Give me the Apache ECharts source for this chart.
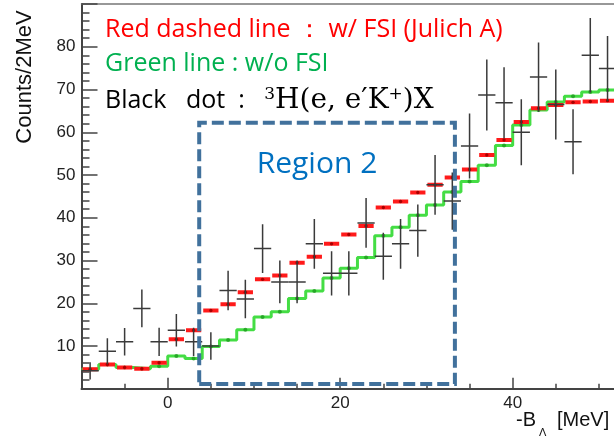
<!DOCTYPE html>
<html>
<head>
<meta charset="utf-8">
<script src="https://cdn.jsdelivr.net/npm/echarts@6/dist/echarts.min.js"></script>
<style>html,body{margin:0;padding:0;background:#fff}#main{width:614px;height:443px}</style>
</head>
<body>
<div id="main"></div>
<script>
// bin centres, 2 MeV bins
let bins = [-9,-7,-5,-3,-1,1,3,5,7,9,11,13,15,17,19,21,23,25,27,29,31,33,35,37,39,41,43,45,47,49,51];
// black crosses : data with error bars
let counts = [4.2,8.8,11,18.8,11,13.7,11,10,23,21,32.8,25,25,33.9,27,27,38.8,31,33.9,37,47.7,43.9,56.8,68.7,66.9,60,72.9,66.5,57.8,78,74.9];
let errors = [2,3,3.2,4.4,3.3,3.8,3.3,3.2,4.6,4.5,5.7,5,5,5.8,5.2,5.2,5.8,5.5,5.8,6.1,7,6.7,7.6,8.3,8.3,7.7,8.1,8.2,7.6,8.7,7.6];
// red : w/ FSI (Julich A)
let fsi = [4.6,5.7,5.0,4.7,6.1,11.6,13.7,18.3,19.8,22.6,25.6,26.5,29.5,30.9,33.9,36.1,38.1,42.4,43.8,45.9,47.7,49.4,51.3,54.7,58.2,62.4,65.6,66.4,67.0,67.2,67.4];
// green : w/o FSI
let nofsi = [4.6,5.7,5.0,4.7,5.3,7.7,7.1,9.9,11.4,13.8,16.8,18.0,21.1,22.9,25.9,28.2,30.7,35.8,37.8,40.6,43.0,46.0,48.5,52.3,56.9,61.7,65.2,67.1,68.4,69.4,69.9];
let xLabels = [0,20,40];
let xMinor = [-5,5,10,15,25,30,35,45,50];
// region 2 box (data coords)
let region = [[3.65,1.1],[33.3,62.2]];

let chart = echarts.init(document.getElementById('main'));

// histogram edges for the green step line
let stepData = bins.map((c,i)=>[c-1,nofsi[i]]);
stepData.push([bins[bins.length-1]+1,nofsi[nofsi.length-1]]);

let xMin = -10, xMax = 51.75;

let option = {
    animation:false,
    grid:{left:81.5,top:4,right:0,bottom:54.2},
    xAxis:[{
        type:'value',min:xMin,max:xMax,position:'bottom',
        splitLine:{show:false},
        axisLine:{onZero:false,lineStyle:{color:'#444',width:2}},
        axisTick:{inside:true,length:11,customValues:xLabels,lineStyle:{color:'#444',width:1.5}},
        axisLabel:{customValues:xLabels,fontSize:17,color:'#222',margin:6,fontFamily:'Liberation Sans'}
    },{
        type:'value',min:xMin,max:xMax,position:'bottom',
        splitLine:{show:false},
        axisLine:{show:false},
        axisTick:{inside:true,length:5,customValues:xMinor,lineStyle:{color:'#444',width:1.5}},
        axisLabel:{show:false}
    },{
        //top frame
        type:'value',min:xMin,max:xMax,position:'top',
        splitLine:{show:false},
        axisLine:{onZero:false,lineStyle:{color:'#777',width:1.5}},
        axisTick:{show:false},
        axisLabel:{show:false}
    }],
    yAxis:{
        type:'value',min:0,max:90,interval:10,
        splitLine:{show:false},
        axisLine:{show:true,onZero:false,lineStyle:{color:'#444',width:2}},
        axisTick:{inside:true,length:16,lineStyle:{color:'#444',width:1.5}},
        minorTick:{show:true,splitNumber:5,length:8,lineStyle:{color:'#444',width:1.5}},
        axisLabel:{fontSize:17,color:'#222',margin:6,fontFamily:'Liberation Sans',
            formatter:function(v){return (v===0||v===90)?'':v;}}
    },
    series:[{
        name:'w/o FSI',type:'line',step:'end',data:stepData,
        symbol:'none',lineStyle:{color:'#44dd44',width:3},z:2
    },{
        name:'w/o FSI pts',type:'scatter',data:bins.map((c,i)=>[c,nofsi[i]]),
        symbolSize:4,itemStyle:{color:'#1f9a1f'},z:3,
        markArea:{
            silent:true,z:10,
            itemStyle:{color:'rgba(0,0,0,0)',borderColor:'#41719c',borderWidth:4,borderType:[12,5]},
            data:[[{coord:region[0]},{coord:region[1]}]]
        }
    },{
        name:'w/ FSI',type:'custom',data:bins.map((c,i)=>[c,fsi[i]]),z:4,clip:true,
        renderItem:function(params,api){
            let x=api.value(0),y=api.value(1);
            let p0=api.coord([x-1,y]),p1=api.coord([x+1,y]);
            return {type:'group',children:[
                {type:'rect',shape:{x:p0[0]+1,y:p0[1]-2,width:p1[0]-p0[0]-2,height:4},style:{fill:'#ff1a1a'}},
                {type:'circle',shape:{cx:(p0[0]+p1[0])/2,cy:p0[1],r:1.7},style:{fill:'#a80000'}}
            ]};
        }
    },{
        name:'data',type:'custom',data:bins.map((c,i)=>[c,counts[i],errors[i]]),z:5,clip:true,
        renderItem:function(params,api){
            let x=api.value(0),y=api.value(1),e=api.value(2);
            let a=api.coord([x-1,y]),b=api.coord([x+1,y]);
            let t=api.coord([x,y+e]),d=api.coord([x,y-e]);
            let st={stroke:'#3a3a3a',lineWidth:1.5};
            return {type:'group',children:[
                {type:'line',shape:{x1:a[0],y1:a[1],x2:b[0],y2:b[1]},style:st},
                {type:'line',shape:{x1:t[0],y1:t[1],x2:d[0],y2:d[1]},style:st}
            ]};
        }
    }],
    graphic:[
        {type:'text',x:25,y:77,rotation:Math.PI/2,style:{text:'Counts/2MeV',fontSize:22,fontFamily:'Liberation Sans',fill:'#111',align:'center',verticalAlign:'middle'}},
        {type:'text',x:516,y:420,style:{text:'-B',fontSize:20,fontFamily:'Liberation Sans',fill:'#111',align:'left',verticalAlign:'middle'}},
        {type:'text',x:539,y:433,style:{text:'Λ',fontSize:11,fontFamily:'Liberation Sans',fill:'#111',align:'left',verticalAlign:'middle'}},
        {type:'text',x:557,y:420,style:{text:'[MeV]',fontSize:20,fontFamily:'Liberation Sans',fill:'#111',align:'left',verticalAlign:'middle'}},
        {type:'text',x:105,y:30,style:{text:'Red dashed line ： w/ FSI (Julich A)',fontSize:25,fontFamily:'Open Sans',fill:'#ff0000',align:'left',verticalAlign:'middle'}},
        {type:'text',x:105,y:64,style:{text:'Green line : w/o FSI',fontSize:25,fontFamily:'Open Sans',fill:'#00b050',align:'left',verticalAlign:'middle'}},
        {type:'text',x:105,y:86,style:{
            text:'{a|Black   dot  :   }{s|3}{m|H(e, e′K}{s|+}{m|)X}',
            rich:{
                a:{fontSize:25,fontFamily:'Open Sans',fill:'#000',lineHeight:30,verticalAlign:'middle'},
                m:{fontSize:28,fontFamily:'DejaVu Serif',fill:'#000',lineHeight:30,verticalAlign:'middle'},
                s:{fontSize:17,fontFamily:'DejaVu Serif',fill:'#000',lineHeight:30,verticalAlign:'top'}
            }
        }},
        {type:'text',x:317,y:164,style:{text:'Region 2',fontSize:30,fontFamily:'Open Sans',fill:'#0070c0',align:'center',verticalAlign:'middle'}}
    ]
};
chart.setOption(option);
</script>
</body>
</html>
